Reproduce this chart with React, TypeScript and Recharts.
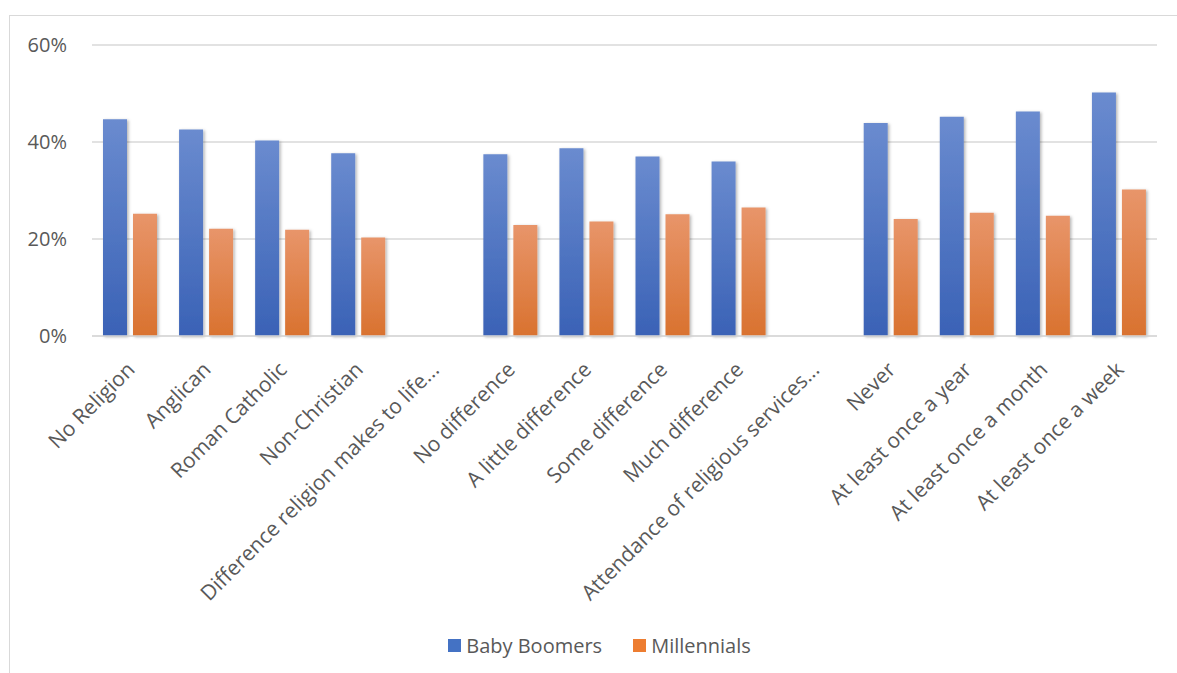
import React from "react";
import { Bar, BarChart, CartesianGrid, Legend, XAxis, YAxis } from "recharts";

const CATEGORIES = [
  "No Religion",
  "Anglican",
  "Roman Catholic",
  "Non-Christian",
  "Difference religion makes to life...",
  "No difference",
  "A little difference",
  "Some difference",
  "Much difference",
  "Attendance of religious services...",
  "Never",
  "At least once a year",
  "At least once a month",
  "At least once a week",
];

const BOOMERS: (number | null)[] = [44.7, 42.6, 40.3, 37.7, null, 37.5, 38.7, 37.0, 36.0, null, 43.9, 45.2, 46.3, 50.2];
const MILLENNIALS: (number | null)[] = [25.2, 22.1, 21.9, 20.3, null, 22.9, 23.6, 25.1, 26.5, null, 24.1, 25.4, 24.8, 30.2];

const Y_TICKS = [0, 20, 40, 60];

const TEXT = "#595959";
const FONT = "'Open Sans', sans-serif";

const data = CATEGORIES.map((name, i) => ({
  name,
  boomers: BOOMERS[i],
  millennials: MILLENNIALS[i],
}));

function CategoryTick({ x, y, payload }: any) {
  return (
    <g transform={`translate(${x + 6},${y + 35})`}>
      <text textAnchor="end" transform="rotate(-45)" fill={TEXT} fontSize={21} fontFamily={FONT}>
        {payload.value}
      </text>
    </g>
  );
}

function LegendContent() {
  const items = [
    { label: "Baby Boomers", color: "#4472c4" },
    { label: "Millennials", color: "#ed7d31" },
  ];
  return (
    <div
      style={{
        display: "flex",
        justifyContent: "center",
        gap: 31,
        paddingLeft: 22,
        fontFamily: FONT,
        fontSize: 20,
        color: TEXT,
      }}
    >
      {items.map((it) => (
        <div key={it.label} style={{ display: "flex", alignItems: "center", gap: 5 }}>
          <span style={{ width: 13, height: 13, background: it.color, display: "inline-block" }} />
          <span>{it.label}</span>
        </div>
      ))}
    </div>
  );
}

export default function App() {
  return (
    <div style={{ position: "fixed", left: 0, top: 0, width: 1177, height: 673, overflow: "hidden", background: "#fff" }}>
      <div
        style={{
          position: "absolute",
          left: 9,
          top: 15,
          width: 1200,
          height: 700,
          border: "1.5px solid #d9d9d9",
        }}
      />
      <div style={{ position: "absolute", left: 0, top: 0 }}>
        <BarChart
          width={1177}
          height={673}
          data={data}
          margin={{ top: 45, right: 20, left: 0, bottom: 10 }}
          barSize={24}
          barGap={6}
        >
          <defs>
            <linearGradient id="blueGrad" x1="0" y1="0" x2="0" y2="1">
              <stop offset="0%" stopColor="#6a8bcf" />
              <stop offset="100%" stopColor="#3a62b6" />
            </linearGradient>
            <linearGradient id="orangeGrad" x1="0" y1="0" x2="0" y2="1">
              <stop offset="0%" stopColor="#e8956a" />
              <stop offset="100%" stopColor="#d9722f" />
            </linearGradient>
            <filter id="barShadow" x="-20%" y="-5%" width="150%" height="115%">
              <feDropShadow dx="1.5" dy="1" stdDeviation="1.5" floodColor="#000" floodOpacity="0.3" />
            </filter>
          </defs>
          <CartesianGrid vertical={false} stroke="#d9d9d9" strokeWidth={1.5} />
          <XAxis
            dataKey="name"
            interval={0}
            tick={<CategoryTick />}
            tickLine={false}
            tickSize={0}
            tickMargin={0}
            axisLine={{ stroke: "#d9d9d9", strokeWidth: 1.5 }}
            height={300}
          />
          <YAxis
            domain={[0, 60]}
            ticks={Y_TICKS}
            tickFormatter={(v: number) => `${v}%`}
            axisLine={false}
            tickLine={false}
            tickSize={0}
            tickMargin={25}
            width={92}
            tick={{ fill: TEXT, fontSize: 20, fontFamily: FONT }}
          />
          <Legend
            verticalAlign="bottom"
            content={<LegendContent />}
            wrapperStyle={{ position: "absolute", top: 632, left: 0, width: 1177 }}
          />
          <Bar dataKey="boomers" name="Baby Boomers" fill="url(#blueGrad)" filter="url(#barShadow)" isAnimationActive={false} />
          <Bar dataKey="millennials" name="Millennials" fill="url(#orangeGrad)" filter="url(#barShadow)" isAnimationActive={false} />
        </BarChart>
      </div>
    </div>
  );
}
